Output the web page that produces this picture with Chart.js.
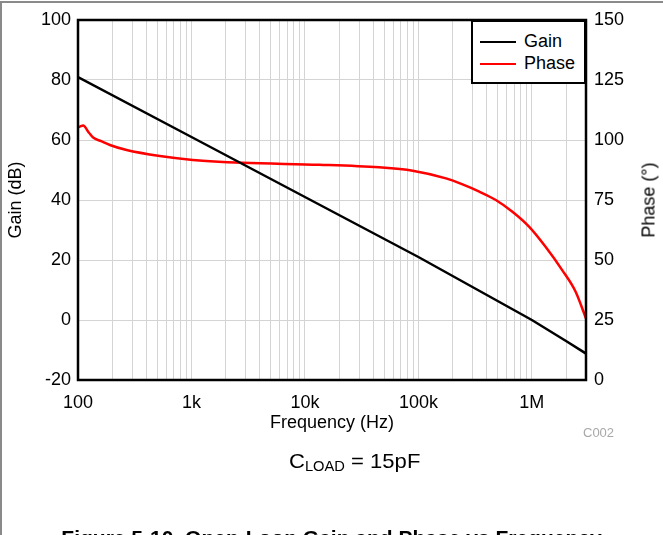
<!DOCTYPE html>
<html>
<head>
<meta charset="utf-8">
<script src="https://cdn.jsdelivr.net/npm/chart.js@4.4.1/dist/chart.umd.min.js"></script>
<style>
  body { margin: 0; background: #fff; }
  #wrap { position: relative; width: 663px; height: 535px; overflow: hidden; background: #fff;
          font-family: 'Liberation Sans', Arial, sans-serif; color: #000; }
  #frameTop { position: absolute; left: 0; top: 1px; width: 663px; height: 0; border-top: 2px solid #8a8a8a; }
  #frameLeft { position: absolute; left: 0; top: 1px; width: 0; height: 534px; border-left: 2px solid #8a8a8a; }
  canvas { position: absolute; left: 0; top: 0; }
  #phaseTitle { position: absolute; left: 649px; top: 200px; transform: translate(-50%, -50%) rotate(-90deg);
                font-size: 18px; white-space: nowrap; }
  #legend { position: absolute; left: 471px; top: 20px; width: 115px; height: 64px; box-sizing: border-box;
            border: 2.5px solid #000; background: #fff; }
  .item { position: absolute; left: 7px; height: 20px; font-size: 18px; line-height: 20px; white-space: nowrap; }
  .item span.swatch { display: inline-block; width: 36px; height: 0; border-top: 2.5px solid #000;
                      vertical-align: middle; margin-right: 8px; }
  #code { position: absolute; left: 583px; top: 425px; font-size: 13px; color: #a8a8a8; }
  #cload { position: absolute; left: 289px; top: 449px; font-size: 21px; line-height: 24px; white-space: nowrap;
           transform: scaleX(1.05); transform-origin: 0 0; }
  #cload sub { font-size: 14px; line-height: 0; vertical-align: -3px; }
  #caption { position: absolute; left: 0; width: 663px; top: 526px; text-align: center; font-size: 21px; font-weight: bold;
             white-space: nowrap; }
</style>
</head>
<body>
<div id="wrap">
  <canvas id="chart" width="663" height="535"></canvas>
  <div id="frameTop"></div>
  <div id="frameLeft"></div>
  <div id="phaseTitle">Phase (°)</div>
  <div id="legend"></div>
  <div id="code">C002</div>
  <div id="cload">C<sub>LOAD</sub> = 15pF</div>
  <div id="caption">Figure 5-10. Open-Loop Gain and Phase vs Frequency</div>
</div>
<script>
// frequency axis: 100 Hz .. 3 MHz
const freqMin = 100;
const freqMax = 3000000;
const freqLabels = { 100: '100', 1000: '1k', 10000: '10k', 100000: '100k', 1000000: '1M' };

// gain (dB)
const gainFreq = [100, 1000, 10000, 100000, 1000000, 2000000, 3000000];
const gainDb   = [81, 61, 41, 21, 0, -7, -11.2];

// phase (deg)
const phaseFreq = [100, 104, 111, 125, 136, 160, 191, 268, 526, 1026, 2825, 13400, 45000, 89000,
                   175000, 245000, 344000, 481000, 674000, 944000, 1320000, 1850000, 2430000, 2880000, 3000000];
const phaseDeg  = [105.3, 105.6, 106, 103, 101, 99.5, 97.9, 95.8, 93.3, 91.7, 90.5, 89.7, 88.6, 87.2,
                   84.0, 81.5, 78.5, 75, 70.1, 63.9, 55.5, 45.8, 36.8, 27.9, 25.6];

const gainTicks = [-20, 0, 20, 40, 60, 80, 100];
const phaseTicks = [0, 25, 50, 75, 100, 125, 150];

const font = { family: "'Liberation Sans', Arial, sans-serif", size: 18 };
const gridColor = '#d4d4d4';

const toPoints = (xs, ys) => xs.map((x, i) => ({ x: x, y: ys[i] }));

// black frame round the plot area
const plotBorder = {
  id: 'plotBorder',
  afterDatasetsDraw(chart) {
    const { ctx, chartArea: a } = chart;
    ctx.save();
    ctx.strokeStyle = '#000';
    ctx.lineWidth = 2.5;
    ctx.strokeRect(a.left, a.top, a.right - a.left, a.bottom - a.top);
    ctx.restore();
  }
};

const chart = new Chart(document.getElementById('chart'), {
  type: 'line',
  data: {
    datasets: [
      {
        label: 'Gain',
        data: toPoints(gainFreq, gainDb),
        yAxisID: 'y',
        borderColor: '#000',
        borderWidth: 2.5,
        pointRadius: 0,
        tension: 0
      },
      {
        label: 'Phase',
        data: toPoints(phaseFreq, phaseDeg),
        yAxisID: 'y2',
        borderColor: '#ff0000',
        borderWidth: 2.5,
        pointRadius: 0,
        cubicInterpolationMode: 'monotone'
      }
    ]
  },
  options: {
    responsive: false,
    animation: false,
    devicePixelRatio: 1,
    layout: { padding: { top: 20, bottom: 101, left: 0, right: 0 } },
    plugins: { legend: { display: false }, tooltip: { enabled: false } },
    scales: {
      x: {
        type: 'logarithmic',
        min: freqMin,
        max: freqMax,
        afterBuildTicks(scale) {
          const ticks = [];
          for (let p = 100; p <= freqMax; p *= 10) {
            for (let m = 1; m <= 9; m++) {
              const v = m * p;
              if (v <= freqMax) ticks.push({ value: v });
            }
          }
          scale.ticks = ticks;
        },
        afterFit(scale) { scale.height = 54; },
        ticks: {
          autoSkip: false,
          maxRotation: 0,
          padding: 12,
          color: '#000',
          font: font,
          callback: (v) => freqLabels[v] || ''
        },
        grid: { color: gridColor, lineWidth: 1, drawTicks: false },
        border: { display: false },
        title: { display: true, text: 'Frequency (Hz)', color: '#000', font: font, padding: { top: 0, bottom: 0 } }
      },
      y: {
        position: 'left',
        min: -20,
        max: 100,
        afterBuildTicks(scale) { scale.ticks = gainTicks.map(v => ({ value: v })); },
        afterFit(scale) { scale.width = 78; },
        ticks: { padding: 7, color: '#000', font: font },
        grid: { color: gridColor, lineWidth: 1, drawTicks: false },
        border: { display: false },
        title: { display: true, text: 'Gain (dB)', color: '#000', font: font, padding: { top: 5, bottom: 0 } }
      },
      y2: {
        position: 'right',
        min: 0,
        max: 150,
        afterBuildTicks(scale) { scale.ticks = phaseTicks.map(v => ({ value: v })); },
        afterFit(scale) { scale.width = 77; },
        ticks: { padding: 8, color: '#000', font: font },
        grid: { drawOnChartArea: false, drawTicks: false },
        border: { display: false }
      }
    }
  },
  plugins: [plotBorder]
});

// legend built from the datasets
const legend = document.getElementById('legend');
chart.data.datasets.forEach((ds, i) => {
  const item = document.createElement('div');
  item.className = 'item';
  item.style.top = (8.5 + i * 22) + 'px';
  const sw = document.createElement('span');
  sw.className = 'swatch';
  sw.style.borderTopColor = ds.borderColor;
  item.appendChild(sw);
  item.appendChild(document.createTextNode(ds.label));
  legend.appendChild(item);
});
</script>
</body>
</html>
